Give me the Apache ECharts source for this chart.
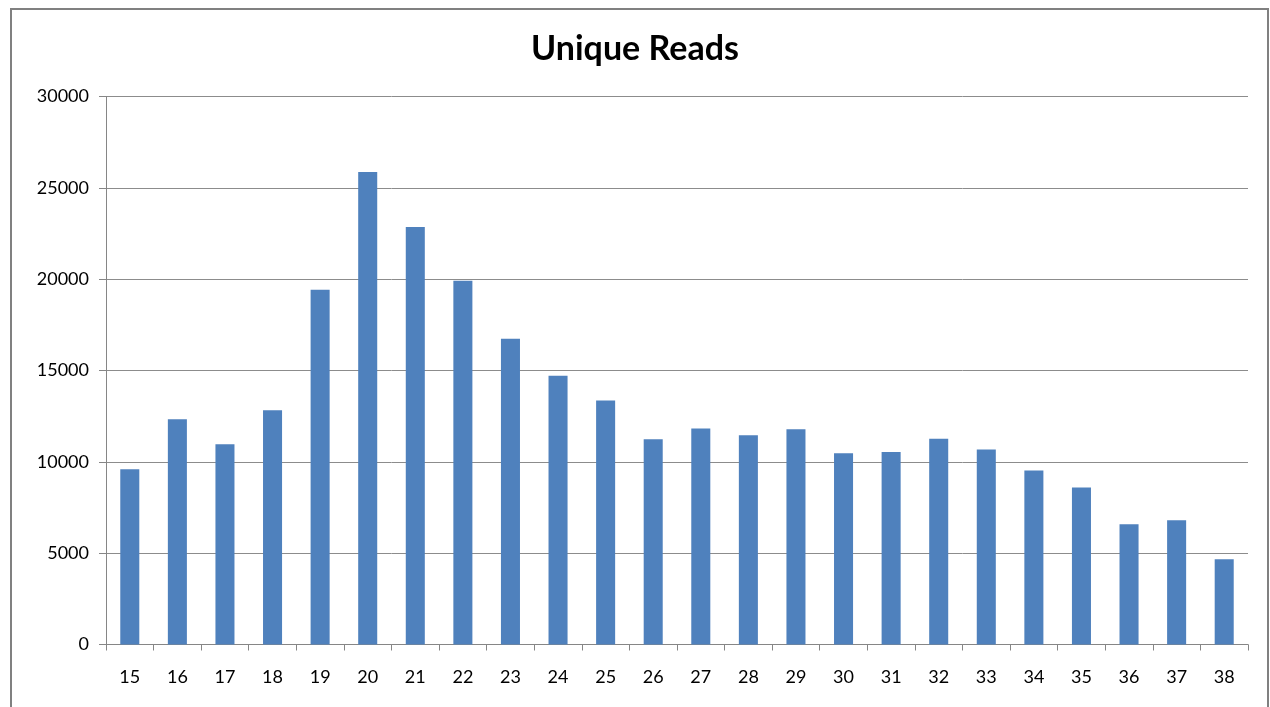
<!DOCTYPE html>
<html>
<head>
<meta charset="utf-8">
<script src="https://cdn.jsdelivr.net/npm/echarts@6/dist/echarts.min.js"></script>
<style>
html,body{margin:0;padding:0;background:#fff;}
#chart{width:1270px;height:707px;}
</style>
</head>
<body>
<div id="chart"></div>
<script>
var categories = ['15','16','17','18','19','20','21','22','23','24','25','26','27','28','29','30','31','32','33','34','35','36','37','38'];
var uniqueReads = [9590,12330,10960,12820,19420,25860,22850,19910,16740,14710,13360,11230,11830,11450,11780,10470,10540,11270,10670,9530,8590,6580,6800,4670];
var yTicks = {min:0, max:30000, interval:5000};

var chart = echarts.init(document.getElementById('chart'));
chart.setOption({
  animation:false,
  backgroundColor:'#ffffff',
  title:{
    text:'Unique Reads',
    left:'center',
    top:27,
    textStyle:{fontFamily:'Lato',fontWeight:'bold',fontSize:34,color:'#000'}
  },
  graphic:[{
    type:'rect',
    shape:{x:11,y:9,width:1257,height:720},
    style:{fill:'none',stroke:'#808080',lineWidth:2},
    silent:true
  }],
  grid:{left:106,right:22,top:96.5,bottom:62.5,containLabel:false},
  xAxis:{
    type:'category',
    data:categories,
    axisLine:{lineStyle:{color:'#868686',width:1}},
    axisTick:{show:true,length:6,alignWithLabel:false,lineStyle:{color:'#868686'}},
    axisLabel:{fontFamily:'Lato',fontSize:18,color:'#000',margin:24}
  },
  yAxis:{
    type:'value',
    min:yTicks.min,max:yTicks.max,interval:yTicks.interval,
    axisLine:{show:true,lineStyle:{color:'#868686'}},
    axisTick:{show:true,length:7,lineStyle:{color:'#868686'}},
    axisLabel:{fontFamily:'Lato',fontSize:18,color:'#000',margin:17,formatter:function(v){return String(v);}},
    splitLine:{show:true,lineStyle:{color:'#8c8c8c',width:1}}
  },
  series:[{
    type:'bar',
    data:uniqueReads,
    barWidth:'40%',
    itemStyle:{color:'#4F81BD'}
  }]
});
</script>
</body>
</html>
